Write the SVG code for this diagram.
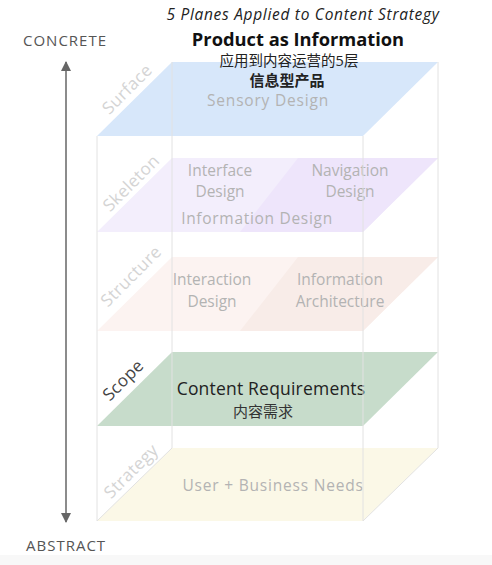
<svg xmlns="http://www.w3.org/2000/svg" width="492" height="565" viewBox="0 0 492 565">
<defs>
<style>
.t{font-family:"Open Sans","Noto Sans","Noto Sans CJK SC",sans-serif}
.g{fill:#b3b3b3;font-size:15.5px;text-anchor:middle}
.lbl{fill:#d4d4d4;font-size:17px;letter-spacing:0.4px;text-anchor:middle}
.edge{stroke:#e2e2e2;stroke-width:1;fill:none}
.ax{fill:#555;font-size:15px;letter-spacing:1px}
</style>
<marker id="ah" viewBox="0 0 10 10" refX="9" refY="5" markerWidth="10" markerHeight="10" markerUnits="userSpaceOnUse" orient="auto">
<path d="M0,0 L10,5 L0,10 z" fill="#666"/>
</marker>
</defs>
<rect x="0" y="0" width="492" height="565" fill="#ffffff"/>
<rect x="0" y="555" width="492" height="10" fill="#f8f8f8"/>

<g id="strategy">
<polygon points="172,448 438,448 363,521 97,521" fill="#fbf8e7"/>
<text class="t g" x="273" y="491" font-size="18" letter-spacing="0.8">User + Business Needs</text>
<text class="t lbl" transform="translate(131,471) rotate(-45)" y="6">Strategy</text>
</g>

<g id="scope">
<polygon points="172,352 438,352 363,426 97,426" fill="#c7dccb"/>
<text class="t" x="271" y="395" font-size="17.5" letter-spacing="0.2" fill="#222" text-anchor="middle">Content Requirements</text>
<text class="t" x="263" y="417" font-size="15" fill="#333" text-anchor="middle">内容需求</text>
<text class="t" transform="translate(123,380) rotate(-45)" y="6" font-size="17" letter-spacing="0.4" fill="#444" text-anchor="middle">Scope</text>
</g>

<g id="structure">
<polygon points="172,257 438,257 363,331 97,331" fill="#fcf3f1"/>
<polygon points="298,257 438,257 363,331 240,331" fill="#f8ece8"/>
<text class="t g" x="212" y="285">Interaction</text>
<text class="t g" x="212" y="307">Design</text>
<text class="t g" x="340" y="285">Information</text>
<text class="t g" x="340" y="307">Architecture</text>
<text class="t lbl" transform="translate(131,276) rotate(-45)" y="6">Structure</text>
</g>

<g id="skeleton">
<polygon points="172,158 438,158 363,232 97,232" fill="#f3eefc"/>
<polygon points="298,158 438,158 363,232 240,232" fill="#eee5fb"/>
<text class="t g" x="220" y="176">Interface</text>
<text class="t g" x="220" y="197">Design</text>
<text class="t g" x="350" y="176">Navigation</text>
<text class="t g" x="350" y="197">Design</text>
<text class="t g" x="257" y="224" font-size="17.5" letter-spacing="0.7">Information Design</text>
<text class="t lbl" transform="translate(131,183) rotate(-45)" y="6">Skeleton</text>
</g>

<g id="surface">
<polygon points="172,62 438,62 363,136 97,136" fill="#d7e7fa"/>
<text class="t g" x="268" y="106" font-size="18" letter-spacing="0.8">Sensory Design</text>
<text class="t lbl" transform="translate(127,89) rotate(-45)" y="6">Surface</text>
</g>

<g id="connectors">
<line class="edge" x1="97" y1="136" x2="97" y2="521"/>
<line class="edge" x1="363" y1="136" x2="363" y2="521"/>
<line class="edge" x1="172" y1="62" x2="172" y2="448"/>
<line class="edge" x1="438" y1="62" x2="438" y2="448"/>
<line class="edge" x1="172" y1="448" x2="97" y2="521"/>
<line class="edge" x1="438" y1="448" x2="363" y2="521"/>
<line x1="66" y1="300" x2="66" y2="62" stroke="#666" stroke-width="1.5" marker-end="url(#ah)"/>
<line x1="66" y1="300" x2="66" y2="522" stroke="#666" stroke-width="1.5" marker-end="url(#ah)"/>
</g>

<g id="title">
<text class="t" x="303" y="20" font-size="15.5" letter-spacing="0.7" font-style="italic" fill="#222" text-anchor="middle">5 Planes Applied to Content Strategy</text>
<text class="t" x="298" y="46" font-size="18.3" font-weight="bold" fill="#111" text-anchor="middle">Product as Information</text>
<text class="t" x="289" y="66" font-size="14.5" fill="#222" text-anchor="middle">应用到内容运营的5层</text>
<text class="t" x="287" y="86" font-size="15" font-weight="bold" fill="#222" text-anchor="middle">信息型产品</text>
</g>

<g id="axis-labels">
<text class="t ax" x="23" y="46">CONCRETE</text>
<text class="t ax" x="26" y="551">ABSTRACT</text>
</g>
</svg>
